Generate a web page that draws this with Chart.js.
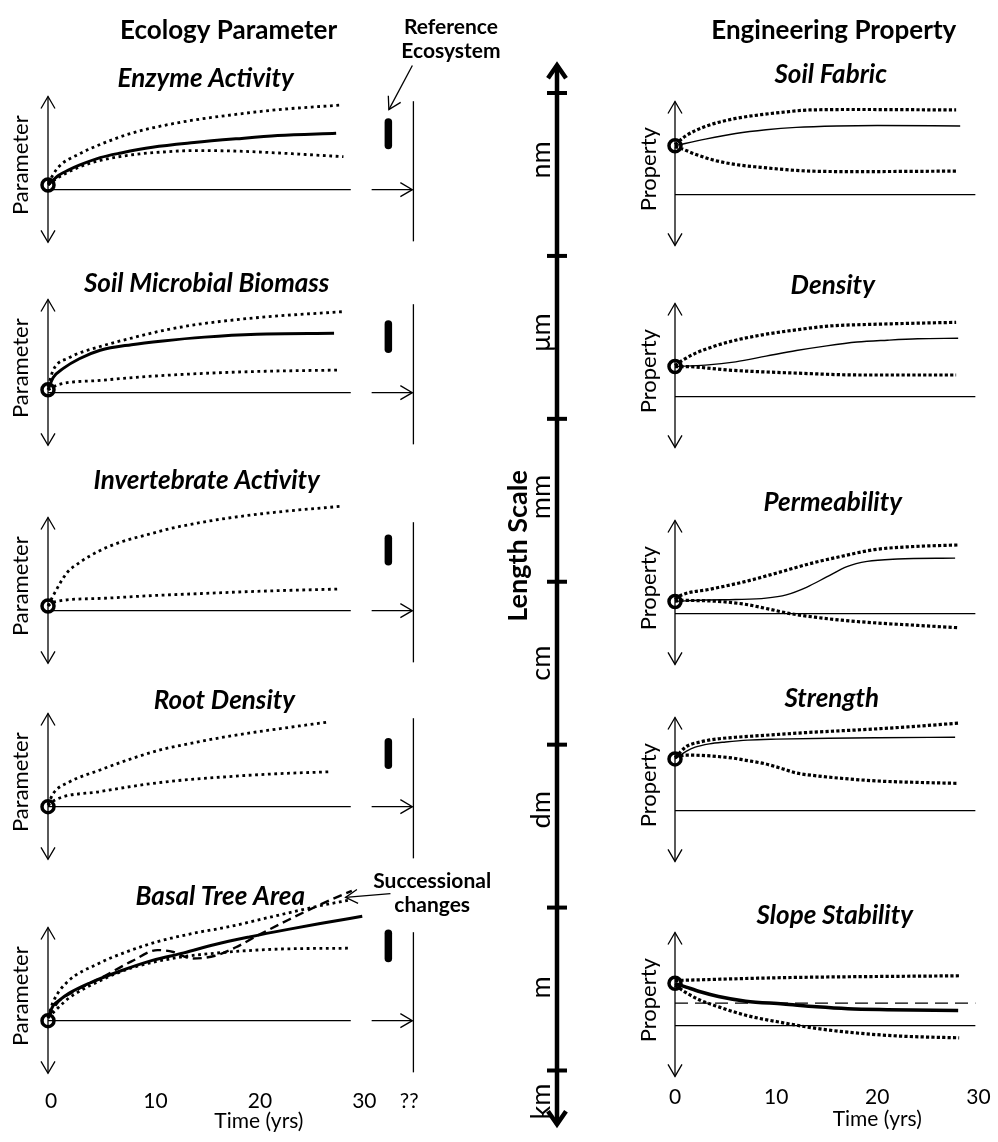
<!DOCTYPE html>
<html>
<head>
<meta charset="utf-8">
<script src="https://cdn.jsdelivr.net/npm/chart.js@4.4.1/dist/chart.umd.min.js"></script>
<style>
  body { margin: 0; background: #fff; }
  #page { position: relative; width: 998px; height: 1142px; overflow: hidden; background: #fff; }
  #page canvas { position: absolute; }
</style>
</head>
<body>
<div id="page"></div>
<script>
// ---------- data (x = years, y = units above the time axis) ----------

// Enzyme Activity
const enzymeMeanT  = [0, 1, 2, 3, 5, 7, 10, 14, 18, 22, 27.6];
const enzymeMean   = [0.5, 1.5, 2.1, 2.6, 3.4, 3.9, 4.5, 5.0, 5.4, 5.75, 6.0];
const enzymeUpperT = [0, 1, 3, 5, 8, 11, 14, 18, 22, 28.2];
const enzymeUpper  = [0.7, 2.4, 3.8, 4.8, 6.0, 6.8, 7.4, 8.0, 8.5, 9.0];
const enzymeLowerT = [0, 1, 3, 5, 8, 11, 14, 18, 22, 28.3];
const enzymeLower  = [0.5, 1.3, 2.4, 3.1, 3.7, 4.0, 4.15, 4.1, 3.9, 3.5];
const enzymeRef    = [4.7, 7.2];

// Soil Microbial Biomass
const microbeMeanT  = [0, 0.5, 1.5, 3, 5, 8, 11, 15, 20, 27.4];
const microbeMean   = [0.3, 1.6, 2.6, 3.6, 4.5, 5.1, 5.5, 5.9, 6.2, 6.3];
const microbeUpperT = [0, 0.5, 2, 5, 8, 11, 14, 18, 22, 28.2];
const microbeUpper  = [0.6, 2.4, 3.7, 4.9, 5.8, 6.6, 7.2, 7.75, 8.15, 8.6];
const microbeLowerT = [0, 1, 5, 10, 15, 20, 27.9];
const microbeLower  = [0.3, 0.85, 1.3, 1.75, 2.05, 2.25, 2.4];
const microbeRef    = [4.6, 7.3];

// Invertebrate Activity
const invertUpperT = [0, 0.5, 1.8, 3, 5, 7, 9.6, 12, 14.3, 17, 20.5, 24, 28.2];
const invertUpper  = [0.5, 1.6, 4.0, 5.1, 6.4, 7.3, 8.1, 8.8, 9.3, 9.8, 10.3, 10.7, 11.1];
const invertLowerT = [0, 0.5, 5, 10, 14.3, 20, 27.9];
const invertLower  = [0.5, 0.9, 1.3, 1.6, 1.8, 2.05, 2.3];
const invertRef    = [5.2, 7.7];

// Root Density
const rootUpperT = [0, 0.5, 2, 5, 8, 11, 14, 17.4, 21, 26.9];
const rootUpper  = [0.2, 1.4, 2.6, 3.9, 5.1, 6.1, 6.8, 7.5, 8.1, 9.0];
const rootLowerT = [0, 0.5, 5, 11, 17.4, 22, 26.9];
const rootLower  = [0.1, 0.6, 1.6, 2.6, 3.2, 3.5, 3.7];
const rootRef    = [4.4, 6.9];

// Basal Tree Area
const basalMeanT  = [0, 0.5, 1, 2, 4, 7, 10, 13, 16, 19.3, 23, 26.5, 30.1];
const basalMean   = [0.3, 1.6, 2.1, 2.9, 4.0, 5.3, 6.4, 7.2, 8.1, 8.9, 9.7, 10.4, 11.1];
const basalSuccT  = [0, 1, 2.5, 5, 8, 10.5, 12, 13.8, 16, 18, 20, 23, 26, 29.1];
const basalSucc   = [0.3, 2.0, 3.1, 4.5, 6.3, 7.5, 7.3, 6.6, 6.9, 7.8, 9.0, 10.7, 12.3, 13.8];
const basalUpperT = [0, 0.5, 1.75, 4.9, 7.5, 10.5, 14, 17.4, 20.5, 23.6, 26, 28.8];
const basalUpper  = [0.3, 2.0, 4.0, 6.1, 7.3, 8.4, 9.3, 10.0, 10.8, 11.6, 12.2, 12.8];
const basalLowerT = [0, 1, 2, 4.9, 8, 12.4, 17.4, 22, 28.8];
const basalLower  = [0.3, 1.4, 2.4, 4.2, 5.6, 6.7, 7.3, 7.6, 7.7];
const basalRef    = [6.6, 9.3];

// Soil Fabric
const fabricMeanT  = [0, 3, 6, 9, 12, 16, 20, 28.2];
const fabricMean   = [5.2, 5.9, 6.5, 6.9, 7.15, 7.3, 7.35, 7.3];
const fabricUpperT = [0, 1, 2, 3.7, 6, 8.5, 11, 13.3, 18, 27.8];
const fabricUpper  = [5.3, 6.2, 6.8, 7.5, 8.1, 8.5, 8.8, 9.0, 9.05, 9.0];
const fabricLowerT = [0, 0.6, 2, 3.7, 6, 8.5, 11, 13.3, 18, 27.8];
const fabricLower  = [5.1, 4.9, 4.3, 3.7, 3.2, 2.9, 2.65, 2.5, 2.45, 2.5];

// Density
const densityMeanT  = [0, 3, 6, 9, 12, 15, 18, 21, 24, 28];
const densityMean   = [3.2, 3.35, 3.7, 4.3, 4.9, 5.4, 5.8, 6.0, 6.15, 6.2];
const densityUpperT = [0, 0.8, 2, 4, 6, 8.8, 12, 15.2, 20, 27.8];
const densityUpper  = [3.3, 3.9, 4.6, 5.4, 6.0, 6.6, 7.1, 7.5, 7.7, 7.9];
const densityLowerT = [0, 0.8, 5.6, 12, 18.4, 27.8];
const densityLower  = [3.2, 3.2, 2.8, 2.5, 2.3, 2.3];

// Permeability
const permMeanT  = [0, 3, 6, 9, 11, 13, 15, 17, 19, 22, 27.7];
const permMean   = [1.3, 1.45, 1.5, 1.65, 2.0, 2.8, 3.9, 5.0, 5.55, 5.8, 5.9];
const permUpperT = [0, 0.5, 3.5, 6.9, 10, 13.3, 16.5, 19.7, 23, 28];
const permUpper  = [1.5, 1.9, 2.6, 3.4, 4.3, 5.3, 6.1, 6.8, 7.1, 7.3];
const permLowerT = [0, 0.5, 3.5, 6.9, 9, 11.4, 14, 16.5, 20, 24, 28];
const permLower  = [1.3, 1.4, 1.35, 1.0, 0.55, 0.0, -0.4, -0.7, -1.0, -1.25, -1.5];

// Strength
const strengthMeanT  = [0, 1.1, 2, 3.4, 5, 7.2, 10, 15.2, 20, 27.7];
const strengthMean   = [5.5, 6.3, 6.75, 7.1, 7.3, 7.5, 7.6, 7.7, 7.75, 7.8];
const strengthUpperT = [0, 1.1, 2.5, 4, 6, 8.8, 13, 18.4, 23, 28];
const strengthUpper  = [5.6, 6.8, 7.3, 7.6, 7.8, 8.0, 8.3, 8.6, 8.9, 9.3];
const strengthLowerT = [0, 1.1, 3, 5.6, 7, 8.8, 10.5, 12, 14, 16.8, 20, 24, 28];
const strengthLower  = [5.7, 5.9, 5.85, 5.6, 5.35, 5.0, 4.5, 4.0, 3.7, 3.4, 3.15, 3.0, 2.9];

// Slope Stability
const slopeMeanT  = [0, 1.1, 2.5, 4.3, 7, 10.7, 14, 17.1, 21, 28];
const slopeMean   = [4.5, 4.1, 3.6, 3.1, 2.6, 2.3, 2.0, 1.8, 1.7, 1.6];
const slopeUpperT = [0, 10.7, 28.1];
const slopeUpper  = [4.8, 5.1, 5.3];
const slopeLowerT = [0, 1.1, 2.5, 4.3, 7, 10.7, 14, 17.1, 22, 28.1];
const slopeLower  = [4.3, 3.5, 2.7, 2.0, 1.1, 0.3, -0.3, -0.7, -1.1, -1.3];
const slopeThreshold = 2.4;

// starting values (circles at t = 0)
const ecologyStart = [0.5, 0.3, 0.5, 0.0, 0.0];
const engineeringStart = [5.2, 3.2, 1.3, 5.5, 4.5];

// time axis
const timeTicks = [0, 10, 20, 30];
const referenceTime = 35;
const referenceTick = 34.6;

// length scale (band boundaries and labels)
const lengthUnits = ['nm', 'μm', 'mm', 'cm', 'dm', 'm', 'km'];
const lengthUnitPos = [0.41, 1.47, 2.48, 3.5, 4.4, 5.49, 6.19];
const lengthTicks = [0, 1, 2, 3, 4, 5, 6];

// ---------- drawing ----------
const FONT = 'Lato';
const page = document.getElementById('page');

const STYLE = {
  axis: { borderWidth: 1.3 },
  bigAxis: { borderWidth: 4.5 },
  thick: { borderWidth: 3, cubicInterpolationMode: 'monotone' },
  thin: { borderWidth: 1.4, cubicInterpolationMode: 'monotone' },
  dotL: { borderWidth: 2.8, borderDash: [2.8, 3.6], cubicInterpolationMode: 'monotone' },
  dotR: { borderWidth: 3.2, borderDash: [3.2, 2.2], cubicInterpolationMode: 'monotone' },
  dash: { borderWidth: 2.4, borderDash: [9, 5], cubicInterpolationMode: 'monotone' },
  dashThin: { borderWidth: 1.3, borderDash: [13, 7] },
  band: { borderWidth: 7.5, borderCapStyle: 'round' },
};

const line = (xs, ys, style, extra) => Object.assign({
  data: xs.map((x, i) => ({ x, y: ys[i] })),
  borderColor: '#000', pointRadius: 0, fill: false, clip: false, tension: 0,
}, STYLE[style], extra);

const circle = (y) => ({
  data: [{ x: 0, y }], showLine: false, clip: false,
  pointRadius: 6, pointBorderWidth: 3.5, pointBorderColor: '#000', pointBackgroundColor: 'rgba(0,0,0,0)',
});

// open chevron heads at line ends
const arrowHeads = {
  id: 'arrowHeads',
  afterDatasetsDraw(chart) {
    const ctx = chart.ctx;
    chart.data.datasets.forEach((ds, i) => {
      if (!ds.heads) return;
      const pts = chart.getDatasetMeta(i).data;
      const len = ds.headLength || 12, half = ds.headHalf || 7;
      const draw = (tip, prev) => {
        const a = Math.atan2(tip.y - prev.y, tip.x - prev.x);
        const ux = Math.cos(a), uy = Math.sin(a);
        ctx.beginPath();
        ctx.moveTo(tip.x - len * ux - half * uy, tip.y - len * uy + half * ux);
        ctx.lineTo(tip.x, tip.y);
        ctx.lineTo(tip.x - len * ux + half * uy, tip.y - len * uy - half * ux);
        ctx.stroke();
      };
      ctx.save();
      ctx.strokeStyle = '#000';
      ctx.lineWidth = ds.borderWidth;
      ctx.setLineDash([]);
      ctx.lineJoin = 'miter';
      if (ds.heads !== 'start') draw(pts[pts.length - 1], pts[pts.length - 2]);
      if (ds.heads !== 'end') draw(pts[0], pts[1]);
      ctx.restore();
    });
  },
};

const textLabels = (labels) => ({
  id: 'textLabels',
  afterDraw(chart) {
    const { ctx, scales: { x, y } } = chart;
    labels.forEach((l) => {
      ctx.save();
      ctx.font = l.font;
      ctx.fillStyle = '#000';
      ctx.textAlign = 'center';
      ctx.textBaseline = l.rotate ? 'middle' : 'alphabetic';
      ctx.translate(x.getPixelForValue(l.x), y.getPixelForValue(l.y));
      if (l.rotate) ctx.rotate(-Math.PI / 2);
      ctx.fillText(l.text, 0, 0);
      ctx.restore();
    });
  },
});

function addChart(box, sc, datasets, labels) {
  const c = document.createElement('canvas');
  c.width = box.w;
  c.height = box.h;
  c.style.left = box.left + 'px';
  c.style.top = box.top + 'px';
  page.appendChild(c);
  return new Chart(c, {
    type: 'line',
    data: { datasets },
    options: {
      responsive: false, animation: false, devicePixelRatio: 1, events: [],
      layout: { padding: { left: box.padLeft || 0, right: 0, top: 0, bottom: 0 } },
      plugins: { legend: { display: false }, tooltip: { enabled: false } },
      scales: {
        x: { type: 'linear', min: sc.xMin, max: sc.xMax, display: false },
        y: { type: 'linear', min: sc.yMin, max: sc.yMax, reverse: !!sc.reverse, display: false },
      },
    },
    plugins: [arrowHeads, textLabels(labels)],
  });
}

const titleFont = `italic bold 26px ${FONT}`;
const headFont = `bold 26px ${FONT}`;
const noteFont = `bold 21px ${FONT}`;
const axisFont = `22px ${FONT}`;
const tickFont = `21px ${FONT}`;

// ---- left column: ecology parameters ----
const ecology = [
  { title: 'Enzyme Activity', base: 192, tt: 15.1, tv: 10.9, ref: enzymeRef,
    curves: [[enzymeMeanT, enzymeMean, 'thick'], [enzymeUpperT, enzymeUpper, 'dotL'], [enzymeLowerT, enzymeLower, 'dotL']] },
  { title: 'Soil Microbial Biomass', base: 395, tt: 15.2, tv: 10.7, ref: microbeRef,
    curves: [[microbeMeanT, microbeMean, 'thick'], [microbeUpperT, microbeUpper, 'dotL'], [microbeLowerT, microbeLower, 'dotL']] },
  { title: 'Invertebrate Activity', base: 613, tt: 15.2, tv: 12.9, ref: invertRef,
    curves: [[invertUpperT, invertUpper, 'dotL'], [invertLowerT, invertLower, 'dotL']] },
  { title: 'Root Density', base: 809, tt: 16.9, tv: 10.4, ref: rootRef,
    curves: [[rootUpperT, rootUpper, 'dotL'], [rootLowerT, rootLower, 'dotL']] },
  { title: 'Basal Tree Area', base: 1023, tt: 16.5, tv: 12.3, ref: basalRef,
    curves: [[basalMeanT, basalMean, 'thick'], [basalSuccT, basalSucc, 'dash'], [basalUpperT, basalUpper, 'dotL'], [basalLowerT, basalLower, 'dotL']] },
];

ecology.forEach((p, k) => {
  const ds = [circle(ecologyStart[k])];
  p.curves.forEach(([t, v, s]) => ds.push(line(t, v, s)));
  ds.push(line([referenceTime - 2.4, referenceTime - 2.4], p.ref, 'band'));
  ds.push(line([0, 0], [-5.6, 9.9], 'axis', { heads: 'both' }));
  ds.push(line([0, 29.0], [0, 0], 'axis'));
  ds.push(line([31.0, referenceTime - 0.1], [0, 0], 'axis', { heads: 'end' }));
  ds.push(line([referenceTime, referenceTime], [-5.5, 9.4], 'axis'));

  const labels = [
    { text: p.title, x: p.tt, y: p.tv, font: titleFont },
    { text: 'Parameter', x: -2.63, y: 2.6, font: axisFont, rotate: true },
  ];
  if (k === 0) {
    ds.push(line([34.9, 32.65], [13.2, 8.5], 'axis', { heads: 'end' }));
    labels.push({ text: 'Ecology Parameter', x: 17.3, y: 16.0, font: headFont });
    labels.push({ text: 'Reference', x: 38.6, y: 16.5, font: noteFont });
    labels.push({ text: 'Ecosystem', x: 38.6, y: 14.0, font: noteFont });
  }
  if (k === 4) {
    ds.push(line([32.8, 28.5], [13.5, 13.1], 'axis', { heads: 'end' }));
    labels.push({ text: 'Successional', x: 36.8, y: 14.1, font: noteFont });
    labels.push({ text: 'changes', x: 36.8, y: 11.6, font: noteFont });
    timeTicks.forEach((t) => labels.push({ text: String(t), x: t + 0.3, y: -9.3, font: tickFont }));
    labels.push({ text: '??', x: referenceTick, y: -9.3, font: tickFont });
    labels.push({ text: 'Time (yrs)', x: 20.2, y: -11.4, font: tickFont });
  }
  addChart({ left: 0, top: p.base - 200, w: 520, h: 320, padLeft: 48 },
    { xMin: 0, xMax: 44.3, yMin: -12, yMax: 20 }, ds, labels);
});

// ---- right column: engineering properties ----
const engineering = [
  { title: 'Soil Fabric', base: 197, tt: 15.4, tv: 11.9,
    curves: [[fabricMeanT, fabricMean, 'thin'], [fabricUpperT, fabricUpper, 'dotR'], [fabricLowerT, fabricLower, 'dotR']] },
  { title: 'Density', base: 399, tt: 15.6, tv: 10.9,
    curves: [[densityMeanT, densityMean, 'thin'], [densityUpperT, densityUpper, 'dotR'], [densityLowerT, densityLower, 'dotR']] },
  { title: 'Permeability', base: 616, tt: 15.6, tv: 10.9,
    curves: [[permMeanT, permMean, 'thin'], [permUpperT, permUpper, 'dotR'], [permLowerT, permLower, 'dotR']] },
  { title: 'Strength', base: 813, tt: 15.5, tv: 11.0,
    curves: [[strengthMeanT, strengthMean, 'thin'], [strengthUpperT, strengthUpper, 'dotR'], [strengthLowerT, strengthLower, 'dotR']] },
  { title: 'Slope Stability', base: 1028, tt: 15.8, tv: 10.8,
    curves: [[slopeMeanT, slopeMean, 'thick', { borderWidth: 3.5 }], [slopeUpperT, slopeUpper, 'dotR'], [slopeLowerT, slopeLower, 'dotR']] },
];

engineering.forEach((p, k) => {
  const ds = [circle(engineeringStart[k])];
  p.curves.forEach(([t, v, s, extra]) => ds.push(line(t, v, s, extra)));
  if (k === 4) ds.push(line([0, 29.7], [slopeThreshold, slopeThreshold], 'dashThin'));
  ds.push(line([0, 0], [-5.4, 9.9], 'axis', { heads: 'both' }));
  ds.push(line([0, 29.7], [0, 0], 'axis'));

  const labels = [
    { text: p.title, x: p.tt, y: p.tv, font: titleFont },
    { text: 'Property', x: -2.6, y: 2.7, font: axisFont, rotate: true },
  ];
  if (k === 0) labels.push({ text: 'Engineering Property', x: 15.7, y: 16.5, font: headFont });
  if (k === 4) {
    timeTicks.forEach((t) => labels.push({ text: String(t), x: t, y: -8.3, font: tickFont }));
    labels.push({ text: 'Time (yrs)', x: 20.0, y: -10.7, font: tickFont });
  }
  addChart({ left: 600, top: p.base - 200, w: 398, h: 320, padLeft: 75 },
    { xMin: 0, xMax: 31, yMin: -12, yMax: 20 }, ds, labels);
});

// ---- middle: length scale ----
const lengthDs = [
  { data: lengthTicks.map((v) => ({ x: 0, y: v })), showLine: false, clip: false,
    pointStyle: 'line', pointRadius: 10, pointBorderWidth: 4, pointBorderColor: '#000' },
  line([0, 0], [-0.17, 6.33], 'bigAxis', { heads: 'both', headLength: 13, headHalf: 9 }),
];
const lengthLabels = lengthUnits.map((u, i) => ({ text: u, x: -0.34, y: lengthUnitPos[i], font: `27px ${FONT}`, rotate: true }));
lengthLabels.push({ text: 'Length Scale', x: -0.85, y: 2.78, font: `bold 27px ${FONT}`, rotate: true });
addChart({ left: 497, top: 0, w: 120, h: 1142 },
  { xMin: -1, xMax: 1, yMin: -0.485, yMax: 6.353, reverse: true }, lengthDs, lengthLabels);
</script>
</body>
</html>
